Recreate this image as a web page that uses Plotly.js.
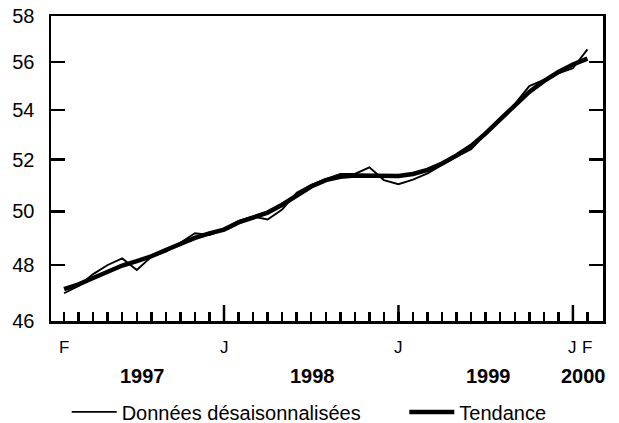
<!DOCTYPE html>
<html>
<head>
<meta charset="utf-8">
<script src="https://cdn.plot.ly/plotly-3.0.1.min.js"></script>
<style>html,body{margin:0;padding:0;background:#fff;}#chart{width:619px;height:423px;}</style>
</head>
<body>
<div id="chart"></div>
<script>
// Months from Feb 1997 to Feb 2000
const months = ['1997-02','1997-03','1997-04','1997-05','1997-06','1997-07','1997-08','1997-09','1997-10','1997-11','1997-12',
  '1998-01','1998-02','1998-03','1998-04','1998-05','1998-06','1998-07','1998-08','1998-09','1998-10','1998-11','1998-12',
  '1999-01','1999-02','1999-03','1999-04','1999-05','1999-06','1999-07','1999-08','1999-09','1999-10','1999-11','1999-12',
  '2000-01','2000-02'];
// Seasonally adjusted data
const seasAdj = [46.98, 47.24, 47.67, 48.00, 48.24, 47.82, 48.30, 48.49, 48.82, 49.17, 49.11,
  49.32, 49.64, 49.80, 49.69, 50.07, 50.71, 51.01, 51.24, 51.44, 51.44, 51.70, 51.20,
  51.04, 51.22, 51.46, 51.79, 52.12, 52.41, 53.05, 53.66, 54.24, 54.99, 55.25, 55.53,
  55.74, 56.55];
// Trend
const trend = [47.13, 47.30, 47.53, 47.76, 47.98, 48.14, 48.32, 48.55, 48.77, 49.00, 49.17,
  49.31, 49.58, 49.76, 49.95, 50.25, 50.62, 50.95, 51.20, 51.33, 51.38, 51.38, 51.36,
  51.36, 51.44, 51.60, 51.85, 52.17, 52.55, 53.05, 53.62, 54.20, 54.75, 55.20, 55.58,
  55.90, 56.15];
// Month tick letters shown on the axis
const monthLetters = {'1997-02':'F','1998-01':'J','1999-01':'J','2000-01':'J','2000-02':'F'};
const yTicks = [46, 48, 50, 52, 54, 56, 58];
const yearLabels = ['1997', '1998', '1999', '2000'];
const yearPos = [5.4, 17.1, 29.2, 35.7];
const seriesNames = ['Données désaisonnalisées', 'Tendance'];

const idx = months.map((m, i) => i);
const majorTicks = idx.filter(i => months[i].endsWith('-01'));
const letterIdx = idx.filter(i => monthLetters[months[i]]);

const FONT = 'Liberation Sans, Arial, sans-serif';

const traces = [
  {x: idx, y: seasAdj, type: 'scatter', mode: 'lines', name: seriesNames[0],
   line: {color: '#000', width: 1.9}, legend: 'legend'},
  {x: idx, y: trend, type: 'scatter', mode: 'lines', name: seriesNames[1],
   line: {color: '#000', width: 4.5}, legend: 'legend2'}
];

const legendBase = {
  orientation: 'h', xanchor: 'left', y: -0.298, yanchor: 'middle',
  font: {family: FONT, size: 20, color: '#000'}, itemwidth: 45,
  bgcolor: 'rgba(0,0,0,0)', borderwidth: 0
};

const monthAnn = letterIdx.map(i => ({
  text: monthLetters[months[i]], x: i, xref: 'x', y: -0.087, yref: 'paper',
  xanchor: 'center', yanchor: 'middle', showarrow: false,
  font: {family: FONT, size: 17, color: '#000'}
}));
const yearAnn = yearLabels.map((t, k) => ({
  text: t, x: yearPos[k], xref: 'x', y: -0.179, yref: 'paper',
  xanchor: 'center', yanchor: 'middle', showarrow: false,
  font: {family: FONT, size: 20, color: '#000', weight: 'bold'}
}));

// Longer January tick marks (inside the frame, 16px tall)
const janTickShapes = majorTicks.map(i => ({
  type: 'line', xref: 'x', yref: 'paper', x0: i, x1: i, y0: 0, y1: 16 / 305,
  line: {color: '#000', width: 2.5}, layer: 'above'
}));

const xr = [-0.9, 37.07];
const layout = {
  width: 619, height: 423,
  margin: {l: 51, r: 16, t: 16, b: 102, pad: 0, autoexpand: false},
  paper_bgcolor: '#fff', plot_bgcolor: '#fff',
  showlegend: true,
  font: {family: FONT, color: '#000'},
  xaxis: {
    range: xr, tickmode: 'array', tickvals: idx,
    ticks: 'inside', ticklen: 9, tickwidth: 2.5, tickcolor: '#000',
    showticklabels: false,
    showline: true, linewidth: 2.5, linecolor: '#000', mirror: true,
    showgrid: false, zeroline: false
  },
  yaxis: {
    type: 'log', range: [Math.log10(46), Math.log10(58)],
    tickmode: 'array', tickvals: yTicks, ticktext: yTicks.map(String),
    ticks: 'inside', ticklen: 14, tickwidth: 2.5, tickcolor: '#000',
    showline: true, linewidth: 2.5, linecolor: '#000', mirror: 'allticks',
    showgrid: false, zeroline: false,
    tickfont: {family: FONT, size: 20, color: '#000'},
    ticklabelstandoff: 10
  },
  legend: Object.assign({}, legendBase, {x: 0.0284}),
  legend2: Object.assign({}, legendBase, {x: 0.640}),
  shapes: janTickShapes,
  annotations: monthAnn.concat(yearAnn)
};

Plotly.newPlot('chart', traces, layout, {displayModeBar: false, staticPlot: true});
</script>
</body>
</html>
